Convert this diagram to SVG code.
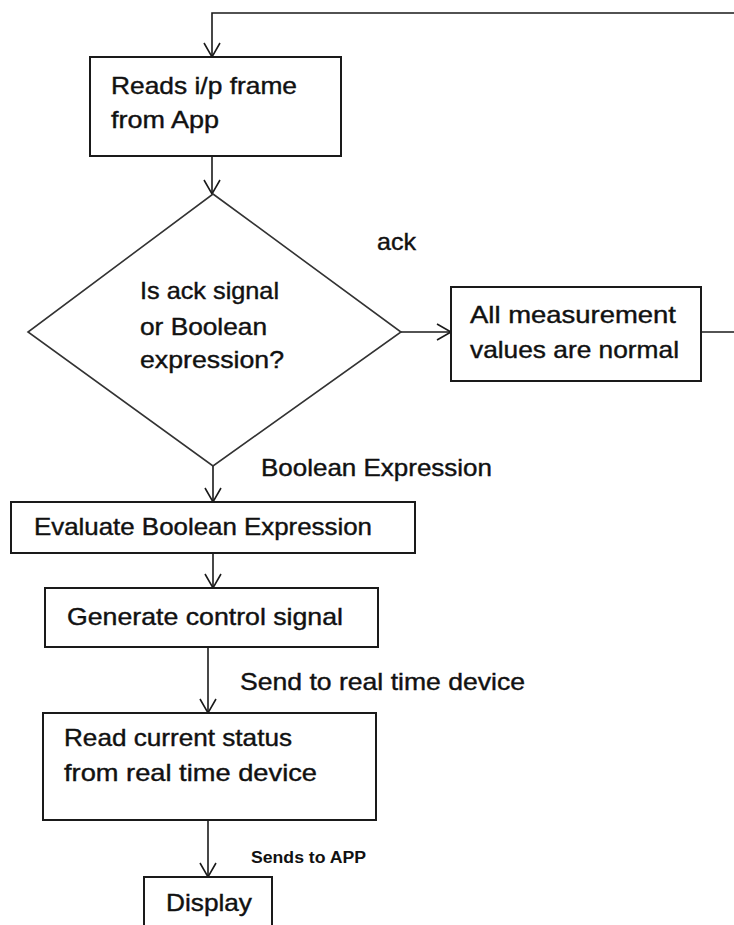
<svg xmlns="http://www.w3.org/2000/svg" width="734" height="925" viewBox="0 0 734 925">
<defs>
<style>
.box{fill:#fff;stroke:#1a1a1a;stroke-width:2}
.dia{fill:#fff;stroke:#333;stroke-width:1.6}
.ln{fill:none;stroke:#1a1a1a;stroke-width:1.6}
.t{font-family:"Liberation Sans",Arial,sans-serif;font-size:24px;fill:#111;stroke:#111;stroke-width:0.4}
.s{font-family:"Liberation Sans",Arial,sans-serif;font-size:16px;font-weight:bold;fill:#111}
</style>
<marker id="arr" viewBox="0 0 20 20" refX="15" refY="9" markerWidth="20" markerHeight="20" markerUnits="userSpaceOnUse" orient="auto">
<path d="M1,1 L15,9 L1,17" fill="none" stroke="#1a1a1a" stroke-width="1.6"/>
</marker>
</defs>
<g id="connectors">
<path class="ln" d="M734,13 L212,13 L212,57" marker-end="url(#arr)"/>
<path class="ln" d="M212,156 L212,194" marker-end="url(#arr)"/>
<path class="ln" d="M401,332 L451,332" marker-end="url(#arr)"/>
<path class="ln" d="M701,332 L734,332"/>
<path class="ln" d="M213,466 L213,502" marker-end="url(#arr)"/>
<path class="ln" d="M213,553 L213,588" marker-end="url(#arr)"/>
<path class="ln" d="M208,647 L208,713" marker-end="url(#arr)"/>
<path class="ln" d="M208,820 L208,877" marker-end="url(#arr)"/>
<text class="t" x="377" y="250" textLength="39" lengthAdjust="spacingAndGlyphs">ack</text>
<text class="t" x="261" y="476" textLength="231" lengthAdjust="spacingAndGlyphs">Boolean Expression</text>
<text class="t" x="240" y="690" textLength="285" lengthAdjust="spacingAndGlyphs">Send to real time device</text>
<text class="s" x="251" y="863" textLength="115" lengthAdjust="spacingAndGlyphs">Sends to APP</text>
</g>
<g id="n-read">
<rect class="box" x="90" y="57" width="251" height="99"/>
<text class="t" x="111" y="94" textLength="186" lengthAdjust="spacingAndGlyphs">Reads i/p frame</text>
<text class="t" x="111" y="128" textLength="108" lengthAdjust="spacingAndGlyphs">from App</text>
</g>
<g id="n-decision">
<polygon class="dia" points="213,194 401,332 213,466 28,332"/>
<text class="t" x="140" y="299" textLength="139" lengthAdjust="spacingAndGlyphs">Is ack signal</text>
<text class="t" x="140" y="335" textLength="127" lengthAdjust="spacingAndGlyphs">or Boolean</text>
<text class="t" x="140" y="368" textLength="144" lengthAdjust="spacingAndGlyphs">expression?</text>
</g>
<g id="n-normal">
<rect class="box" x="451" y="287" width="250" height="94"/>
<text class="t" x="470" y="323" textLength="206" lengthAdjust="spacingAndGlyphs">All measurement</text>
<text class="t" x="470" y="358" textLength="209" lengthAdjust="spacingAndGlyphs">values are normal</text>
</g>
<g id="n-evaluate">
<rect class="box" x="11" y="502" width="404" height="51"/>
<text class="t" x="34" y="535" textLength="338" lengthAdjust="spacingAndGlyphs">Evaluate Boolean Expression</text>
</g>
<g id="n-generate">
<rect class="box" x="45" y="588" width="333" height="59"/>
<text class="t" x="67" y="625" textLength="276" lengthAdjust="spacingAndGlyphs">Generate control signal</text>
</g>
<g id="n-status">
<rect class="box" x="43" y="713" width="333" height="107"/>
<text class="t" x="64" y="746" textLength="228" lengthAdjust="spacingAndGlyphs">Read current status</text>
<text class="t" x="64" y="781" textLength="253" lengthAdjust="spacingAndGlyphs">from real time device</text>
</g>
<g id="n-display">
<rect class="box" x="144" y="877" width="128" height="60"/>
<text class="t" x="166" y="911" textLength="86" lengthAdjust="spacingAndGlyphs">Display</text>
</g>
</svg>
